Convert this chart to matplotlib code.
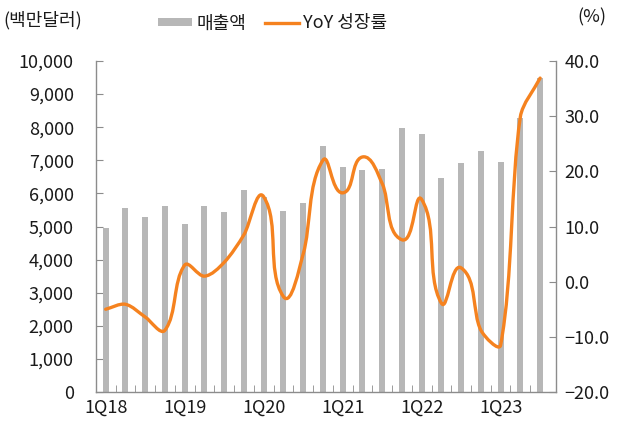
import numpy as np
import matplotlib
matplotlib.use("Agg")
import matplotlib.pyplot as plt
from matplotlib.path import Path
from matplotlib.patches import PathPatch, Patch
from matplotlib.lines import Line2D
from matplotlib.ticker import FuncFormatter, FixedLocator

plt.rcParams['font.family'] = ['Noto Sans CJK KR', 'DejaVu Sans']

# quarters 1Q18 .. 3Q23
quarters = ['1Q18', '2Q18', '3Q18', '4Q18',
            '1Q19', '2Q19', '3Q19', '4Q19',
            '1Q20', '2Q20', '3Q20', '4Q20',
            '1Q21', '2Q21', '3Q21', '4Q21',
            '1Q22', '2Q22', '3Q22', '4Q22',
            '1Q23', '2Q23', '3Q23']
sales = [4950, 5560, 5290, 5620,
         5075, 5620, 5450, 6100,
         5900, 5475, 5720, 7420,
         6790, 6715, 6745, 7975,
         7785, 6475, 6920, 7280,
         6940, 8290, 9480]
yoy = [-5.0, -4.1, -6.4, -8.8,
       3.0, 1.0, 3.5, 8.5,
       15.4, -2.7, 5.0, 22.0,
       16.1, 22.6, 17.8, 7.6,
       14.9, -3.9, 2.5, -8.8,
       -11.5, 29.9, 36.9]
tick_labels = ['1Q18', '1Q19', '1Q20', '1Q21', '1Q22', '1Q23']

bar_color = '#b7b7b7'
line_color = '#f5821f'
axis_color = '#8c8c8c'
txt_color = '#1a1a1a'
fs = 13

fig = plt.figure(figsize=(6.17, 4.25), dpi=100)
ax = fig.add_axes([0.1556, 0.0776, 0.7454, 0.7789])
ax2 = ax.twinx()

x = np.arange(len(quarters))
ax.bar(x, sales, width=0.3, color=bar_color, zorder=2)
ax.set_xlim(-0.49, 22.8)
ax.set_ylim(0, 10000)
ax.set_yticks(range(0, 10001, 1000))
ax.yaxis.set_major_formatter(FuncFormatter(lambda v, p: f"{int(v):,}"))

# x labels under the first quarter of each year, tick marks between bars
ax.set_xticks([quarters.index(t) for t in tick_labels])
ax.set_xticklabels(tick_labels)
ax.xaxis.set_minor_locator(FixedLocator(x[:-1] + 0.5))
ax.tick_params(axis='x', which='major', length=0, pad=5)
ax.tick_params(axis='x', which='minor', direction='in', length=5, color=axis_color)
ax.tick_params(axis='y', direction='in', length=5, color=axis_color, pad=16)

ax2.set_ylim(-20, 40)

# smoothed YoY line: bezier handles along the neighbour direction,
# length scaled by the segment length (in screen proportions)
sx, sy = 19.75, 5.517
pts = np.column_stack([x * sx, np.array(yoy) * sy])
n = len(pts)
k = 0.3
verts = [pts[0]]
codes = [Path.MOVETO]
for i in range(n - 1):
    p1, p2 = pts[i], pts[i + 1]
    seg = np.linalg.norm(p2 - p1)
    d1 = pts[i + 1] - pts[i - 1] if i > 0 else p2 - p1
    d2 = pts[i + 2] - pts[i] if i + 2 < n else p2 - p1
    c1 = p1 + d1 / np.linalg.norm(d1) * seg * k
    c2 = p2 - d2 / np.linalg.norm(d2) * seg * k
    verts += [c1, c2, p2]
    codes += [Path.CURVE4] * 3
verts = np.array(verts) / np.array([sx, sy])
ax2.add_patch(PathPatch(Path(verts, codes), fill=False, edgecolor=line_color,
                        lw=2.4, capstyle='round', joinstyle='round',
                        transform=ax2.transData, zorder=3))
ax2.set_yticks(range(-20, 41, 10))
ax2.yaxis.set_major_formatter(FuncFormatter(lambda v, p: f"{v:.1f}".replace('-', '\u2212')))
ax2.tick_params(axis='y', direction='in', length=5, color=axis_color, pad=6)

for a in (ax, ax2):
    a.spines['top'].set_visible(False)
    for s in ('left', 'right', 'bottom'):
        a.spines[s].set_color(axis_color)
        a.spines[s].set_linewidth(1.0)
    for lab in a.get_xticklabels() + a.get_yticklabels():
        lab.set_fontsize(fs)
        lab.set_color(txt_color)
ax.spines['right'].set_visible(False)
ax2.spines['left'].set_visible(False)
ax2.spines['bottom'].set_visible(False)

fig.text(0.006, 0.952, '(백만달러)', fontsize=fs, color=txt_color, va='center', ha='left')
fig.text(0.982, 0.958, '(%)', fontsize=fs, color=txt_color, va='center', ha='right')

handles = [Patch(facecolor=bar_color, edgecolor='none'),
           Line2D([0], [0], color=line_color, lw=2.4)]
fig.legend(handles, ['매출액', 'YoY 성장률'], loc='center', bbox_to_anchor=(0.442, 0.945),
           ncol=2, frameon=False, fontsize=fs, handlelength=1.9, handleheight=0.33,
           handletextpad=0.25, columnspacing=1.0, labelcolor=txt_color)

fig.savefig('out.png', dpi=100)
